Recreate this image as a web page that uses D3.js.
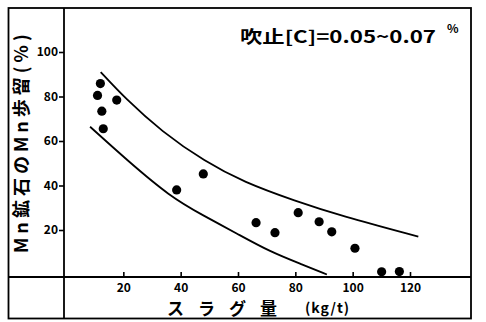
<!DOCTYPE html>
<html>
<head>
<meta charset="utf-8">
<script src="https://cdn.jsdelivr.net/npm/d3@7"></script>
<style>
html,body{margin:0;padding:0;background:#fff;}
svg{display:block;}
text{font-family:"Noto Sans CJK JP","DejaVu Sans",sans-serif;fill:#000;}
</style>
</head>
<body>
<svg id="chart" width="486" height="322"></svg>
<script>
// Data
const slagX = [11, 12, 12.5, 13, 17.7, 38.6, 47.9, 66.3, 72.9, 81, 88.3, 92.7, 100.8, 110.1, 116.3];
const mnYield = [80.5, 85.8, 73.4, 65.5, 78.4, 38, 45.2, 23.3, 18.8, 27.8, 23.7, 19.2, 11.8, 1.2, 1.3];

const upperX = [12.1, 20.6, 33.4, 48.5, 62, 80, 96, 122.9];
const upperY = [91, 79.2, 64.2, 50.7, 41.5, 33, 26.3, 17];
const lowerX = [8.4, 21.2, 36.3, 47.9, 59.5, 71.2, 82.8, 91];
const lowerY = [66.4, 51.5, 35, 26.5, 18.5, 10.2, 4.3, 0];

const xTicks = [20, 40, 60, 80, 100, 120];
const yTicks = [20, 40, 60, 80, 100];

const yTitle = "Mn鉱石のMn歩留(%)";
const xTitle = "スラグ量";
const xUnit = "(kg/t)";
const note = "吹止[C]=0.05~0.07";
const noteSup = "%";

const svg = d3.select("#chart");
const x = d3.scaleLinear().domain([0, 120]).range([66, 410]);
const y = d3.scaleLinear().domain([0, 100]).range([274.5, 52]);

// Frame
const frame = svg.append("g").attr("stroke", "#000").attr("fill", "none");
frame.append("rect").attr("x", 8.5).attr("y", 8).attr("width", 462.5).attr("height", 310.5).attr("stroke-width", 1.8);
frame.append("line").attr("x1", 64).attr("x2", 64).attr("y1", 8).attr("y2", 318.5).attr("stroke-width", 1.8);
frame.append("line").attr("x1", 8.5).attr("x2", 471).attr("y1", 277).attr("y2", 277).attr("stroke-width", 1.8);

// Y axis
const yAxis = d3.axisLeft(y).tickValues(yTicks).tickSize(5).tickPadding(1).tickFormat(d3.format("d"));
const gy = svg.append("g").attr("transform", "translate(64,0)").call(yAxis);
gy.select(".domain").remove();
gy.selectAll(".tick line").attr("stroke", "#000").attr("stroke-width", 1.6);
gy.selectAll(".tick text").attr("font-size", 12).attr("font-weight", "bold")
  .attr("font-family", "'DejaVu Sans',sans-serif").attr("fill", "#000");

// X axis (ticks up from axis line)
const xAxis = d3.axisBottom(x).tickValues(xTicks).tickSize(-5).tickPadding(0).tickFormat(d3.format("d"));
const gx = svg.append("g").attr("transform", "translate(0,277)").call(xAxis);
gx.select(".domain").remove();
gx.selectAll(".tick line").attr("stroke", "#000").attr("stroke-width", 1.6);
gx.selectAll(".tick text").attr("font-size", 12).attr("font-weight", "bold")
  .attr("font-family", "'DejaVu Sans',sans-serif").attr("fill", "#000")
  .attr("y", 6).attr("dy", "0.71em");

// Curves
const line = d3.line().x(d => x(d[0])).y(d => y(d[1])).curve(d3.curveBasis);
const upper = upperX.map((v, i) => [v, upperY[i]]);
const lower = lowerX.map((v, i) => [v, lowerY[i]]);
svg.append("path").attr("d", line(upper)).attr("fill", "none").attr("stroke", "#000").attr("stroke-width", 1.8);
svg.append("path").attr("d", line(lower)).attr("fill", "none").attr("stroke", "#000").attr("stroke-width", 1.8);

// Points
svg.append("g").selectAll("circle").data(slagX.map((v, i) => [v, mnYield[i]])).join("circle")
  .attr("cx", d => x(d[0])).attr("cy", d => y(d[1])).attr("r", 4.6).attr("fill", "#000");

// Y title
svg.append("text").attr("transform", "translate(28,253) rotate(-90)")
  .attr("x", 0).attr("y", 0).attr("font-size", 18).attr("font-weight", "bold")
  .attr("letter-spacing", 4).text(yTitle);

// X title
svg.append("text").attr("x", 167).attr("y", 315).attr("font-size", 17).attr("font-weight", "bold")
  .attr("textLength", 110).attr("lengthAdjust", "spacing").text(xTitle);
svg.append("text").attr("x", 305).attr("y", 313).attr("font-size", 14).attr("font-weight", "bold")
  .attr("letter-spacing", 1).text(xUnit);

// Annotation
svg.append("text").attr("x", 240).attr("y", 43).attr("font-size", 17).attr("font-weight", "bold")
  .attr("textLength", 196).attr("lengthAdjust", "spacingAndGlyphs").text(note);
svg.append("text").attr("x", 447).attr("y", 33).attr("font-size", 12).attr("font-weight", "bold").text(noteSup);
</script>
</body>
</html>
